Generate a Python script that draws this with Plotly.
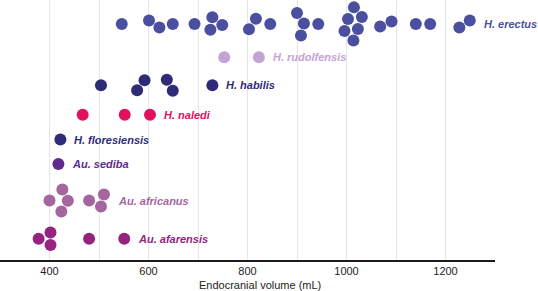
import numpy as np
import plotly.graph_objects as go

# ---- data (endocranial volume, mL) ----
species = ["H. erectus", "H. rudolfensis", "H. habilis", "H. naledi",
           "H. floresiensis", "Au. sediba", "Au. africanus", "Au. afarensis"]
erectus = [546, 601, 622, 649, 693, 725, 729, 749, 803, 817, 846, 900, 908, 914,
           943, 996, 1003, 1014, 1015, 1023, 1031, 1068, 1091, 1140, 1169, 1228, 1249]
rudolfensis = [753, 823]
habilis = [504, 577, 592, 637, 649, 729]
naledi = [467, 552, 603]
floresiensis = [422]
sediba = [418]
africanus = [400, 424, 426, 437, 480, 504, 510]
afarensis = [378, 402, 402, 480, 551]
tick_values = [400, 600, 800, 1000, 1200]
tick_labels = ["400", "600", "800", "1000", "1200"]
grid_minor = [500, 700, 900, 1100]

series = [erectus, rudolfensis, habilis, naledi, floresiensis, sediba, africanus, afarensis]

# ---- layout / style ----
colors = ["#4b4f9f", "#c4a4d4", "#2f2b77", "#e3105f",
          "#2f2b77", "#5e2b8c", "#a5659f", "#96237f"]
row_center = [24, 57.3, 85.3, 114.7, 139.5, 164, 200.5, 238.7]  # band centres (px from top)
W, H = 538, 291
M = dict(l=0, r=43, t=0, b=31)
X_RANGE = [300, 1300]
PLOT_W = W - M["l"] - M["r"]
PLOT_H = H - M["t"] - M["b"]
SCALE = PLOT_W / (X_RANGE[1] - X_RANGE[0])
DIAM = 12.5
FONT = "Liberation Sans, Arial, Helvetica, sans-serif"


def swarm(values, d=DIAM, scale=SCALE):
    """Compact beeswarm: x fixed, y relaxed (collision + gravity), multi-start (px units)."""
    x = np.array(values, float) * scale
    n = len(x)
    pairs = [(i, j, np.sqrt(d * d - (x[i] - x[j]) ** 2))
             for i in range(n) for j in range(i + 1, n) if abs(x[i] - x[j]) < d]
    if not pairs:
        return np.zeros(n)

    def relax(y):
        def resolve():
            for i, j, req in pairs:
                dy = y[j] - y[i]
                if abs(dy) < req:
                    s = np.sign(dy) if dy != 0 else -1.0
                    push = (req - abs(dy)) / 2
                    y[i] -= s * push
                    y[j] += s * push
        for _ in range(300):
            y *= 0.92
            resolve()
        for _ in range(80):
            resolve()
        return y

    best, best_cost = None, np.inf
    idx = np.arange(n)
    for k in range(1, 80):
        y0 = 4.0 * np.sin(k * 1.37 * idx + 0.7 * k)
        y = relax(y0.copy())
        y -= (y.max() + y.min()) / 2 * 0  # keep centred on the band
        cost = np.sum(y ** 2) + 5 * np.max(np.abs(y))
        if cost < best_cost - 1e-6:
            best, best_cost = y, cost
    return best


fig = go.Figure()
for name, vals, col, yc in zip(species, series, colors, row_center):
    offs = swarm(vals)
    fig.add_trace(go.Scatter(
        x=vals, y=yc + offs, mode="markers", name=name,
        marker=dict(size=12, color=col, line=dict(width=0)),
        cliponaxis=False, showlegend=False, hoverinfo="x+name"))
    fig.add_annotation(
        x=max(vals), y=yc, xref="x", yref="y", text=f"<b><i>{name}</i></b>",
        showarrow=False, xanchor="left", yanchor="middle", xshift=12,
        font=dict(family=FONT, size=11, color=col))

fig.add_annotation(
    x=260 / PLOT_W, y=-(285 - PLOT_H) / PLOT_H, xref="paper", yref="paper",
    text="Endocranial volume (mL)", showarrow=False,
    xanchor="center", yanchor="middle",
    font=dict(family=FONT, size=11, color="#222"))

fig.update_layout(
    width=W, height=H, margin=M,
    paper_bgcolor="white", plot_bgcolor="white",
    font=dict(family=FONT, size=11, color="#222"),
    xaxis=dict(range=X_RANGE, tickvals=tick_values, ticktext=tick_labels,
               showgrid=True, gridcolor="#e6e6e6", gridwidth=1,
               minor=dict(tickvals=grid_minor, showgrid=True,
                          gridcolor="#e6e6e6", gridwidth=1, ticks=""),
               showline=True, linecolor="#1a1a1a", linewidth=2,
               ticks="", zeroline=False, fixedrange=True,
               tickfont=dict(family=FONT, size=11, color="#222")),
    yaxis=dict(range=[PLOT_H, 0], showgrid=False, zeroline=False,
               showticklabels=False, fixedrange=True),
)

fig.write_html("out.html", config={"displayModeBar": False},
               post_script="document.body.style.margin='0px';document.body.style.overflow='hidden';")
